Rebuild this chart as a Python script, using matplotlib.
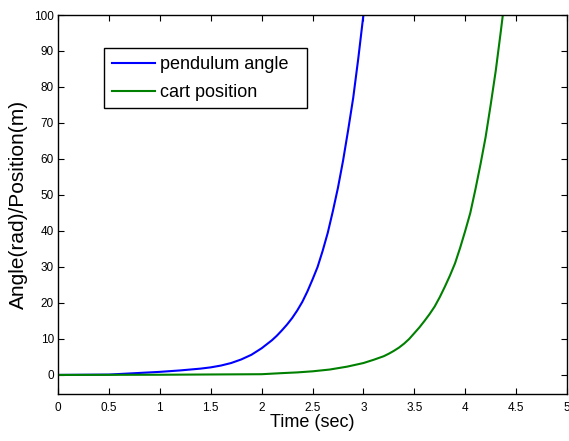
import matplotlib
matplotlib.use("Agg")
import matplotlib.pyplot as plt
from matplotlib.patches import Rectangle

# pendulum angle response (rad)
t_angulo = [0.0, 0.5, 0.7, 0.9, 1.0, 1.1, 1.2, 1.3, 1.4, 1.5, 1.6, 1.7, 1.8, 1.9,
            2.0, 2.1, 2.15, 2.2, 2.25, 2.3, 2.35, 2.4, 2.45, 2.5, 2.55, 2.6, 2.65,
            2.7, 2.75, 2.8, 2.85, 2.9, 2.95, 3.0, 3.05]
angulo = [0.0, 0.1, 0.4, 0.7, 0.85, 1.05, 1.25, 1.5, 1.75, 2.1, 2.6, 3.3, 4.3, 5.6,
          7.4, 9.6, 10.9, 12.4, 14.0, 15.8, 17.9, 20.3, 23.2, 26.5, 30.0, 34.5, 39.5,
          45.5, 52.0, 59.5, 68.0, 77.0, 88.0, 100.0, 113.0]

# cart position response (m)
t_carro = [0.0, 1.0, 2.0, 2.2, 2.35, 2.5, 2.67, 2.84, 3.0, 3.1, 3.2, 3.25, 3.3, 3.35,
           3.4, 3.45, 3.5, 3.55, 3.6, 3.65, 3.7, 3.75, 3.8, 3.85, 3.9, 3.95, 4.0,
           4.05, 4.1, 4.15, 4.2, 4.25, 4.3, 4.35, 4.4]
posicao = [0.0, 0.05, 0.2, 0.5, 0.7, 1.0, 1.5, 2.3, 3.3, 4.2, 5.2, 5.9, 6.7, 7.6,
           8.7, 10.0, 11.6, 13.2, 15.0, 16.9, 19.0, 21.6, 24.5, 27.6, 31.0, 35.3, 40.0,
           45.0, 51.5, 58.5, 66.0, 75.0, 84.5, 95.5, 107.0]

x_ticks = [0, 0.5, 1, 1.5, 2, 2.5, 3, 3.5, 4, 4.5, 5]
x_labels = ["0", "0.5", "1", "1.5", "2", "2.5", "3", "3.5", "4", "4.5", "5"]
y_ticks = [0, 10, 20, 30, 40, 50, 60, 70, 80, 90, 100]

plt.rcParams["font.family"] = ["Liberation Sans", "DejaVu Sans"]

fig = plt.figure(figsize=(5.69, 4.41), dpi=100)
ax = fig.add_axes([58 / 569, 47 / 441, 509 / 569, 379 / 441])

ax.plot(t_angulo, angulo, color=(0, 0, 1), linewidth=1.5, label="pendulum angle")
ax.plot(t_carro, posicao, color=(0, 0.5, 0), linewidth=1.5, label="cart position")

ax.set_xlim(0, 5)
ax.set_ylim(-5.3, 100)
ax.set_xticks(x_ticks)
ax.set_xticklabels(x_labels)
ax.set_yticks(y_ticks)

ax.tick_params(direction="in", top=True, right=True, length=4, width=0.8,
               labelsize=8.5, colors="black")
ax.tick_params(axis="x", pad=6)
ax.tick_params(axis="y", pad=3)
for spine in ax.spines.values():
    spine.set_linewidth(1.0)
    spine.set_color("black")

ax.set_xlabel("Time (sec)", fontsize=13, labelpad=0)
ax.set_ylabel("Angle(rad)/Position(m)", fontsize=15, labelpad=4)

# legend entries without frame, box drawn separately (wider, MATLAB style)
leg = ax.legend(loc="upper left", bbox_to_anchor=(104 / 569, 1 - 48 / 441),
                bbox_transform=fig.transFigure, fontsize=13, frameon=False,
                handlelength=2.4, handletextpad=0.25, labelspacing=0.62,
                borderpad=0.45, borderaxespad=0)
leg.set_zorder(6)
caixa = Rectangle((104 / 569, 1 - 108 / 441), 203 / 569, 60 / 441,
                  transform=fig.transFigure, facecolor="white", edgecolor="black",
                  linewidth=1.0, zorder=5, clip_on=False)
ax.add_patch(caixa)

fig.savefig("out.png", dpi=100)
